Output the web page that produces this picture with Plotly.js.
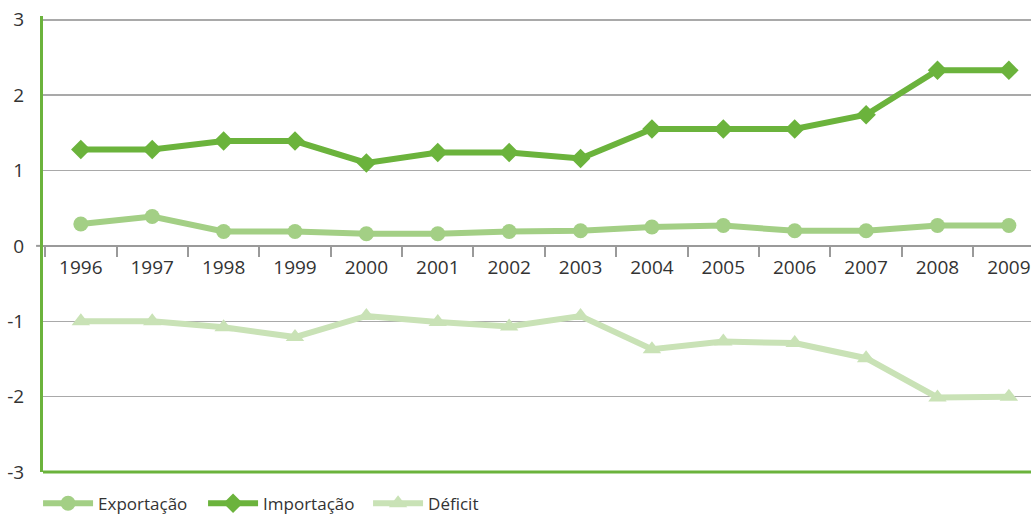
<!DOCTYPE html>
<html>
<head>
<meta charset="utf-8">
<script src="https://cdn.plot.ly/plotly-3.0.1.min.js"></script>
<style>
  html, body { margin: 0; padding: 0; background: #ffffff; }
  #chart { width: 1031px; height: 515px; }
</style>
</head>
<body>
<div id="chart"></div>
<script>
// Anos da série
const years = ['1996', '1997', '1998', '1999', '2000', '2001', '2002',
               '2003', '2004', '2005', '2006', '2007', '2008', '2009'];

// Valores por série
const exportacao = [0.29, 0.39, 0.19, 0.19, 0.16, 0.16, 0.19,
                    0.20, 0.25, 0.27, 0.20, 0.20, 0.27, 0.27];
const importacao = [1.28, 1.28, 1.39, 1.39, 1.10, 1.24, 1.24,
                    1.16, 1.55, 1.55, 1.55, 1.74, 2.33, 2.33];
const deficit = [-1.00, -1.00, -1.08, -1.21, -0.93, -1.01, -1.07,
                 -0.93, -1.37, -1.27, -1.29, -1.49, -2.01, -2.00];

// Marcas do eixo vertical
const yTicks = [-3, -2, -1, 0, 1, 2, 3];

const GREEN_DARK = '#6bb33c';
const GREEN_MID = '#a3cf85';
const GREEN_PALE = '#c9e2b6';
const GRID = '#a9a9a9';
const AXIS_GREY = '#9a9a9a';
const TEXT = '#333333';
const FONT = '"Open Sans", "Noto Sans", sans-serif';

const yRange = [-3, 3.05];
const zeroPos = (0 - yRange[0]) / (yRange[1] - yRange[0]);

const traces = [
  {
    name: 'Exportação', x: years, y: exportacao, type: 'scatter', mode: 'lines+markers',
    line: { color: GREEN_MID, width: 6 },
    marker: { symbol: 'circle', size: 15, color: GREEN_MID }
  },
  {
    name: 'Importação', x: years, y: importacao, type: 'scatter', mode: 'lines+markers',
    line: { color: GREEN_DARK, width: 6 },
    marker: { symbol: 'diamond', size: 15, color: GREEN_DARK }
  },
  {
    name: 'Déficit', x: years, y: deficit, type: 'scatter', mode: 'lines+markers',
    line: { color: GREEN_PALE, width: 6 },
    marker: { symbol: 'triangle-up', size: 16, color: GREEN_PALE }
  }
];

const layout = {
  width: 1031,
  height: 515,
  margin: { l: 43, r: 0, t: 16, b: 43, autoexpand: false },
  paper_bgcolor: '#ffffff',
  plot_bgcolor: '#ffffff',
  font: { family: FONT, color: TEXT, size: 19 },
  xaxis: {
    type: 'category',
    range: [-0.53, 13.31],
    anchor: 'free',
    position: zeroPos,
    showline: true, linecolor: AXIS_GREY, linewidth: 2,
    ticks: 'outside', tickson: 'boundaries',
    ticklen: 10, tickwidth: 2, tickcolor: AXIS_GREY,
    ticklabelstandoff: 4,
    showgrid: false, zeroline: false,
    tickfont: { family: FONT, size: 19, color: TEXT }
  },
  yaxis: {
    range: yRange,
    tickvals: yTicks,
    ticktext: yTicks.map(String),
    showgrid: true, gridcolor: GRID, gridwidth: 1.5,
    zeroline: false,
    showline: true, linecolor: GREEN_DARK, linewidth: 3,
    ticks: '', ticklabelstandoff: 12,
    tickfont: { family: FONT, size: 19, color: TEXT }
  },
  shapes: [
    // moldura inferior verde
    { type: 'line', xref: 'paper', yref: 'paper', x0: 0, x1: 1, y0: 0, y1: 0,
      line: { color: GREEN_DARK, width: 3 }, layer: 'above' },
    // prolongamento da linha do zero à esquerda do eixo
    { type: 'line', xref: 'paper', yref: 'y', x0: -0.007, x1: 0, y0: 0, y1: 0,
      line: { color: AXIS_GREY, width: 2 }, layer: 'below' }
  ],
  showlegend: true,
  legend: {
    orientation: 'h',
    x: -0.005, xanchor: 'left',
    y: -0.03, yanchor: 'top',
    itemwidth: 50,
    entrywidth: 100,
    font: { family: FONT, size: 17, color: TEXT },
    traceorder: 'normal'
  }
};

Plotly.newPlot('chart', traces, layout, { displayModeBar: false, staticPlot: true });
</script>
</body>
</html>
